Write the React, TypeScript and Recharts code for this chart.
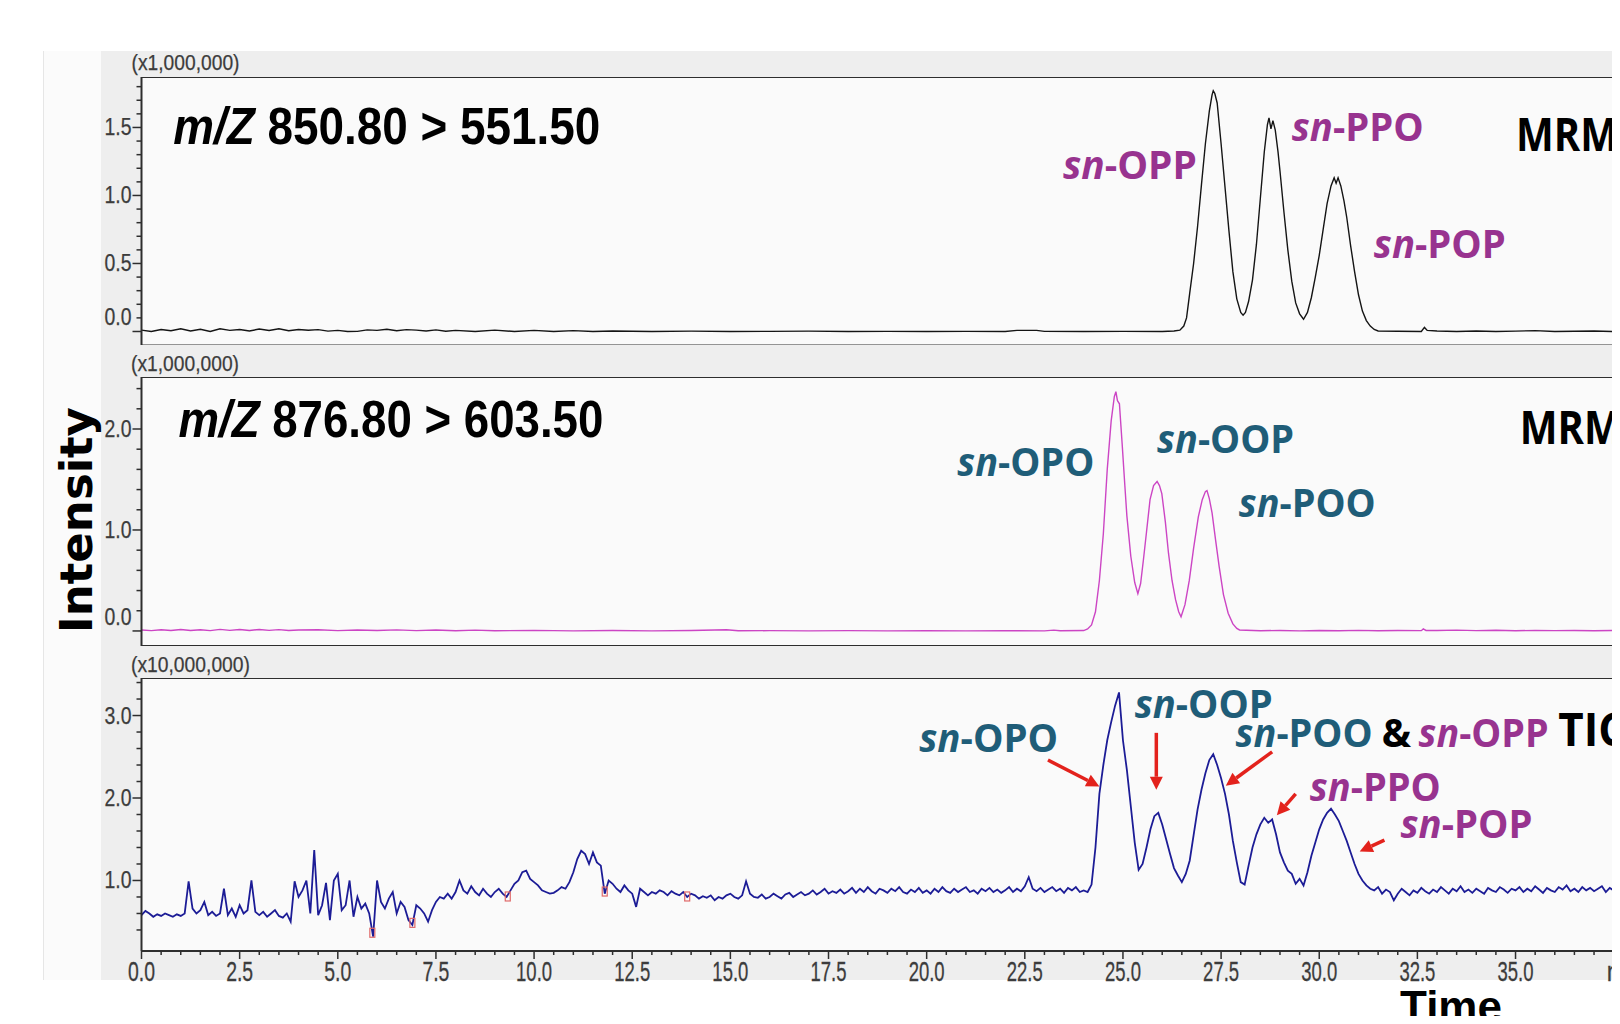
import React from 'react';
import { LineChart, Line, XAxis, YAxis, ReferenceLine, ReferenceDot } from 'recharts';

// ---------------- DATA ----------------
// MRM m/Z 850.80 > 551.50 (x1,000,000) : [time (min), intensity]
const MRM_850_POINTS: [number, number][] = [
  [0, 0.01], [0.25, 0], [0.5, 0.015], [0.75, 0.005], [1, 0.02], [1.25, 0.004], [1.5, 0.016], [1.75, 0],
  [2, 0.02], [2.25, 0.008], [2.5, 0.015], [2.75, 0.004], [3, 0.018], [3.25, 0.007], [3.5, 0.02], [3.75, 0.005],
  [4, 0.015], [4.25, 0.009], [4.5, 0.014], [4.75, 0.003], [5, 0.008], [5.25, 0], [5.5, 0.001], [5.75, 0.012],
  [6, 0.008], [6.25, 0.016], [6.5, 0.006], [6.75, 0.014], [7, 0.01], [7.25, 0.004], [7.5, 0.012], [7.75, 0.002],
  [8, 0.008], [8.5, 0], [9, 0.01], [9.5, 0], [10, 0.008], [10.5, 0], [11, 0.006], [11.5, 0], [12, 0.004],
  [13, 0], [14, 0.003], [15, 0], [16, 0.001], [17, 0.003], [18, 0], [19, 0.001], [20, 0], [21, 0.001], [22, 0],
  [22.3, 0.008], [22.8, 0.008], [23, 0.001], [24, 0], [25, 0.001], [26, 0], [26.3, 0.004], [26.45, 0.01],
  [26.55, 0.04], [26.62, 0.1], [26.7, 0.28], [26.8, 0.5], [26.9, 0.77], [27, 1.08], [27.1, 1.38], [27.2, 1.62],
  [27.27, 1.74], [27.3, 1.77], [27.34, 1.75], [27.4, 1.68], [27.5, 1.38], [27.6, 1.06], [27.7, 0.74], [27.8, 0.44],
  [27.9, 0.24], [28, 0.14], [28.06, 0.12], [28.12, 0.14], [28.2, 0.22], [28.3, 0.38], [28.4, 0.64], [28.5, 0.98],
  [28.6, 1.32], [28.68, 1.52], [28.72, 1.57], [28.77, 1.49], [28.82, 1.55], [28.88, 1.48], [28.95, 1.32], [29, 1.18],
  [29.1, 0.88], [29.2, 0.6], [29.3, 0.37], [29.4, 0.21], [29.5, 0.13], [29.6, 0.09], [29.7, 0.14], [29.8, 0.25],
  [29.9, 0.4], [30, 0.56], [30.1, 0.75], [30.2, 0.94], [30.3, 1.07], [30.38, 1.13], [30.43, 1.09], [30.48, 1.13],
  [30.55, 1.07], [30.63, 0.96], [30.7, 0.84], [30.8, 0.63], [30.9, 0.44], [31, 0.27], [31.1, 0.15], [31.2, 0.08],
  [31.3, 0.04], [31.4, 0.015], [31.5, 0.004], [32, 0.002], [32.6, 0], [32.68, 0.03], [32.75, 0.008], [33, 0.004],
  [33.5, 0], [34, 0.004], [34.5, 0], [35, 0.003], [35.5, 0.006], [36, 0], [36.5, 0.002], [37, 0.004], [37.5, 0],
  [38, 0.002], [38.68, 0],
];

// MRM m/Z 876.80 > 603.50 (x1,000,000)
const MRM_876_POINTS: [number, number][] = [
  [0, 0.01], [0.25, 0.003], [0.5, 0.012], [0.75, 0.004], [1, 0.015], [1.25, 0.005], [1.5, 0.012], [1.75, 0.003],
  [2, 0.016], [2.25, 0.006], [2.5, 0.014], [2.75, 0.004], [3, 0.015], [3.25, 0.006], [3.5, 0.013], [3.75, 0.004],
  [4, 0.01], [4.5, 0.012], [5, 0.003], [5.5, 0.01], [6, 0.004], [6.5, 0.011], [7, 0.003], [7.5, 0.009], [8, 0.002],
  [8.5, 0.008], [9, 0.002], [10, 0.006], [11, 0.001], [12, 0.005], [13, 0.001], [14, 0.004], [14.9, 0.012],
  [15.2, 0.002], [16, 0.003], [17, 0.001], [18, 0.003], [19, 0.001], [20, 0.002], [21, 0.001], [22, 0.002],
  [23, 0.001], [23.24, 0.008], [23.4, 0.002], [24, 0.004], [24.1, 0.02], [24.2, 0.06], [24.3, 0.19], [24.4, 0.5],
  [24.5, 0.96], [24.6, 1.6], [24.7, 2.08], [24.78, 2.32], [24.82, 2.37], [24.86, 2.28], [24.91, 2.25], [24.98, 1.85],
  [25.05, 1.43], [25.1, 1.14], [25.2, 0.74], [25.3, 0.48], [25.38, 0.37], [25.45, 0.47], [25.52, 0.7], [25.6, 0.98],
  [25.69, 1.3], [25.78, 1.44], [25.87, 1.48], [25.93, 1.44], [25.99, 1.36], [26.08, 1.08], [26.16, 0.77], [26.25, 0.5],
  [26.34, 0.31], [26.42, 0.19], [26.48, 0.14], [26.58, 0.26], [26.69, 0.5], [26.8, 0.82], [26.92, 1.13], [27.02, 1.3],
  [27.1, 1.38], [27.14, 1.39], [27.2, 1.31], [27.27, 1.17], [27.36, 0.9], [27.45, 0.64], [27.56, 0.36], [27.68, 0.175],
  [27.8, 0.07], [27.9, 0.025], [27.97, 0.01], [28.5, 0.002], [29, 0.005], [29.5, 0.001], [30, 0.004], [30.5, 0.002],
  [31, 0.006], [31.5, 0.002], [32, 0.005], [32.6, 0.003], [32.65, 0.02], [32.72, 0.005], [33, 0.004], [33.5, 0.008],
  [34, 0.003], [34.5, 0.007], [35, 0.002], [35.5, 0.006], [36, 0.003], [36.5, 0.005], [37, 0.002], [37.5, 0.004],
  [38, 0.003], [38.68, 0.002],
];

// TIC (x10,000,000), sampled every 0.1 min from 0.0 min
const TIC_STEP_MIN = 0.1;
const TIC_VALUES: number[] = [
  0.58, 0.63, 0.60, 0.56, 0.59, 0.57, 0.60, 0.58, 0.56, 0.59,
  0.57, 0.60, 0.99, 0.66, 0.60, 0.64, 0.74, 0.58, 0.62, 0.57,
  0.60, 0.90, 0.58, 0.66, 0.56, 0.70, 0.60, 0.64, 1.00, 0.62,
  0.58, 0.62, 0.56, 0.60, 0.64, 0.57, 0.55, 0.60, 0.50, 0.99,
  0.80, 0.88, 1.00, 0.60, 1.37, 0.58, 0.70, 0.97, 0.52, 1.00,
  1.08, 0.64, 0.70, 1.00, 0.56, 0.80, 0.66, 0.72, 0.60, 0.32,
  1.00, 0.74, 0.66, 0.78, 0.86, 0.60, 0.74, 0.68, 0.52, 0.46,
  0.70, 0.66, 0.60, 0.50, 0.64, 0.74, 0.80, 0.78, 0.84, 0.78,
  0.86, 1.00, 0.88, 0.84, 0.93, 0.86, 0.82, 0.90, 0.84, 0.80,
  0.86, 0.90, 0.84, 0.80, 0.88, 0.96, 1.00, 1.10, 1.12, 1.02,
  0.98, 0.94, 0.88, 0.86, 0.84, 0.85, 0.88, 0.92, 0.90, 0.98,
  1.10, 1.26, 1.36, 1.32, 1.20, 1.34, 1.22, 1.18, 0.84, 1.00,
  0.96, 0.90, 0.86, 0.94, 0.88, 0.84, 0.68, 0.90, 0.86, 0.82,
  0.86, 0.84, 0.88, 0.86, 0.82, 0.87, 0.84, 0.82, 0.86, 0.80,
  0.84, 0.82, 0.78, 0.81, 0.79, 0.82, 0.76, 0.80, 0.78, 0.82,
  0.84, 0.80, 0.78, 0.82, 0.99, 0.84, 0.80, 0.79, 0.83, 0.78,
  0.80, 0.84, 0.81, 0.78, 0.83, 0.85, 0.80, 0.83, 0.86, 0.82,
  0.84, 0.88, 0.83, 0.86, 0.90, 0.84, 0.87, 0.85, 0.89, 0.84,
  0.87, 0.91, 0.85, 0.90, 0.86, 0.92, 0.87, 0.84, 0.90, 0.88,
  0.85, 0.90, 0.87, 0.92, 0.86, 0.84, 0.89, 0.86, 0.91, 0.85,
  0.88, 0.84, 0.90, 0.86, 0.92, 0.87, 0.85, 0.90, 0.86, 0.89,
  0.92, 0.86, 0.88, 0.84, 0.90, 0.87, 0.91, 0.86, 0.89, 0.85,
  0.88, 0.92, 0.86, 0.90, 0.87, 0.93, 1.04, 0.90, 0.87, 0.91,
  0.86, 0.89, 0.92, 0.87, 0.90, 0.85, 0.91, 0.88, 0.92, 0.86,
  0.88, 0.86, 0.95, 1.40, 2.05, 2.40, 2.70, 2.92, 3.12, 3.28,
  2.70, 2.34, 1.90, 1.46, 1.13, 1.20, 1.40, 1.62, 1.78, 1.82,
  1.68, 1.50, 1.32, 1.15, 1.06, 0.98, 1.08, 1.24, 1.55, 1.86,
  2.10, 2.30, 2.46, 2.53, 2.40, 2.24, 2.05, 1.80, 1.48, 1.22,
  0.98, 0.95, 1.18, 1.40, 1.56, 1.68, 1.76, 1.70, 1.74, 1.56,
  1.34, 1.22, 1.12, 1.08, 0.96, 1.02, 0.94, 1.10, 1.30, 1.46,
  1.62, 1.74, 1.82, 1.87, 1.80, 1.72, 1.60, 1.48, 1.34, 1.20,
  1.08, 1.00, 0.94, 0.90, 0.88, 0.92, 0.84, 0.89, 0.86, 0.76,
  0.84, 0.90, 0.86, 0.82, 0.88, 0.85, 0.91, 0.87, 0.84, 0.89,
  0.86, 0.92, 0.88, 0.84, 0.90, 0.87, 0.93, 0.86, 0.89, 0.85,
  0.90, 0.87, 0.84, 0.91, 0.88, 0.86, 0.92, 0.89, 0.85, 0.90,
  0.88, 0.92, 0.86, 0.90, 0.87, 0.93, 0.89, 0.85, 0.91, 0.88,
  0.86, 0.92, 0.89, 0.94, 0.87, 0.90, 0.86, 0.92, 0.88, 0.91,
  0.87, 0.90, 0.93, 0.86, 0.91, 0.88, 0.84, 0.90, 0.87, 0.92,
  0.89, 0.86, 0.91, 0.88, 0.90, 0.87, 0.92,
];

// small red integration marks on the TIC: [time, intensity]
const TIC_MARKS: [number, number][] = [[5.88, 0.36], [6.9, 0.48], [9.33, 0.8], [11.8, 0.86], [13.9, 0.8]];

// axis ticks / labels
const X_MAJOR_TICKS = [0, 2.5, 5, 7.5, 10, 12.5, 15, 17.5, 20, 22.5, 25, 27.5, 30, 32.5, 35, 37.5];
const X_TICK_LABELS = ['0.0', '2.5', '5.0', '7.5', '10.0', '12.5', '15.0', '17.5', '20.0', '22.5', '25.0', '27.5', '30.0', '32.5', '35.0', 'min'];
const P1_Y_MAJOR = [0, 0.5, 1.0, 1.5];
const P1_Y_LABELS = ['0.0', '0.5', '1.0', '1.5'];
const P2_Y_MAJOR = [0, 1, 2];
const P2_Y_LABELS = ['0.0', '1.0', '2.0'];
const P3_Y_MAJOR = [1, 2, 3];
const P3_Y_LABELS = ['1.0', '2.0', '3.0'];

// ---------------- STYLE / LAYOUT ----------------
const FRAME = '#2e2e2e';
const TICK_TEXT = '#3c3c3c';
const PURPLE = '#98338f';
const TEAL = '#1f5d78';
const RED = '#e3221c';
const AXIS_FONT = "'Liberation Sans', Arial, sans-serif";
const ANNO_FONT = "'Open Sans', 'Noto Sans', sans-serif";

const CHART_W = 1660;
const PLOT_LEFT = 141.5;
const YAXIS_W = 60;
const X_DOMAIN: [number, number] = [0, 38.68];

const range = (a: number, b: number, s: number) => {
  const out: number[] = [];
  for (let k = 0; a + k * s <= b + 1e-9; k++) out.push(Math.round((a + k * s) * 1000) / 1000);
  return out;
};
const X_TICKS = range(0, 38.5, 0.5);

const toRows = (pts: [number, number][]) => pts.map(([t, v]) => ({ t, v }));
const TIC_ROWS = TIC_VALUES.map((v, i) => ({ t: Math.round(i * TIC_STEP_MIN * 100) / 100, v }));

type Part = { text: string; color: string; italic?: boolean };
type Anno = { t: number; v: number; parts: Part[]; size: number; width?: number; font?: string; weight?: number };

const sn = (name: string, color: string): Part[] => [
  { text: 'sn', color, italic: true },
  { text: '-' + name, color },
];
const mz = (text: string): Part[] => [
  { text: 'm/Z', color: '#000', italic: true },
  { text: ' ' + text, color: '#000' },
];
const MZ_FONT = "'Liberation Sans', Arial, sans-serif";

const P1_ANNOS: Anno[] = [
  { t: 0.807, v: 1.375, parts: mz('850.80 > 551.50'), size: 52, width: 427, font: MZ_FONT },
  { t: 35.01, v: 1.326, parts: [{ text: 'MRM', color: '#000' }], size: 46, width: 102 },
  { t: 23.47, v: 1.123, parts: sn('OPP', PURPLE), size: 39, width: 134 },
  { t: 29.3, v: 1.404, parts: sn('PPO', PURPLE), size: 39, width: 132 },
  { t: 31.39, v: 0.537, parts: sn('POP', PURPLE), size: 39, width: 132 },
];
const P2_ANNOS: Anno[] = [
  { t: 0.94, v: 1.918, parts: mz('876.80 > 603.50'), size: 52, width: 425, font: MZ_FONT },
  { t: 35.11, v: 1.851, parts: [{ text: 'MRM', color: '#000' }], size: 46, width: 102 },
  { t: 20.78, v: 1.535, parts: sn('OPO', TEAL), size: 39, width: 137 },
  { t: 25.87, v: 1.765, parts: sn('OOP', TEAL), size: 39, width: 137 },
  { t: 27.95, v: 1.132, parts: sn('POO', TEAL), size: 39, width: 137 },
];
const P3_ANNOS: Anno[] = [
  { t: 19.81, v: 2.561, parts: sn('OPO', TEAL), size: 39, width: 139 },
  { t: 25.3, v: 2.966, parts: sn('OOP', TEAL), size: 39, width: 138 },
  { t: 27.87, v: 2.622, parts: sn('POO', TEAL), size: 39, width: 137 },
  { t: 31.59, v: 2.622, parts: [{ text: '&', color: '#000' }], size: 39 },
  { t: 32.53, v: 2.622, parts: sn('OPP', PURPLE), size: 39, width: 130 },
  { t: 36.09, v: 2.63, parts: [{ text: 'TIC', color: '#000' }], size: 46, width: 68 },
  { t: 29.76, v: 1.967, parts: sn('PPO', PURPLE), size: 39, width: 131 },
  { t: 32.07, v: 1.511, parts: sn('POP', PURPLE), size: 39, width: 132 },
];
// arrows: [t1, v1, t2, v2] from label to peak
const P3_ARROWS: [number, number, number, number][] = [
  [23.09, 2.46, 24.4, 2.14],
  [25.85, 2.79, 25.85, 2.1],
  [28.8, 2.56, 27.62, 2.15],
  [29.4, 2.05, 28.92, 1.79],
  [31.66, 1.49, 31.03, 1.35],
];

// ---------------- RENDER HELPERS ----------------
const XTick = (props: any) => {
  const { x, y, payload } = props;
  const v = payload.value;
  const idx = X_MAJOR_TICKS.findIndex((m) => Math.abs(m - v) < 1e-6);
  const major = idx >= 0;
  const label = major ? X_TICK_LABELS[idx] : null;
  return (
    <g>
      <line x1={x} x2={x} y1={y} y2={y + (major ? 8 : 4)} stroke={FRAME} strokeWidth={1.5} />
      {label &&
        (label === 'min' ? (
          <text x={x - 7} y={y + 30} fontFamily={AXIS_FONT} fontSize={28} fill={TICK_TEXT} stroke={TICK_TEXT} strokeWidth={0.3}
            textLength={38} lengthAdjust="spacingAndGlyphs">
            min
          </text>
        ) : (
          <text x={x} y={y + 30} textAnchor="middle" fontFamily={AXIS_FONT} fontSize={28} fill={TICK_TEXT} stroke={TICK_TEXT} strokeWidth={0.3}
            textLength={label.length === 4 ? 36 : 27} lengthAdjust="spacingAndGlyphs">
            {label}
          </text>
        ))}
    </g>
  );
};

const YTick = (props: any) => {
  const { x, y, payload, majors, labels, zeroShift } = props;
  const v = payload.value;
  const idx = (majors as number[]).findIndex((m) => Math.abs(m - v) < 1e-6);
  const major = idx >= 0;
  const shift = major && Math.abs(v) < 1e-6 ? zeroShift : 0;
  return (
    <g>
      <line x1={x - (major ? 9 : 5)} x2={x} y1={y} y2={y} stroke={FRAME} strokeWidth={1.5} />
      {major && (
        <text x={x - 10} y={y + 8 + shift} textAnchor="end" fontFamily={AXIS_FONT} fontSize={23} fill={TICK_TEXT} stroke={TICK_TEXT} strokeWidth={0.25}
          textLength={27} lengthAdjust="spacingAndGlyphs">
          {labels[idx]}
        </text>
      )}
    </g>
  );
};

const annoShape = (a: Anno) => (p: any) => (
  <text x={p.cx} y={p.cy} fontFamily={a.font || ANNO_FONT} fontWeight={a.weight || 700} fontSize={a.size}
    textLength={a.width} lengthAdjust={a.width ? 'spacingAndGlyphs' : undefined}>
    {a.parts.map((pt, i) => (
      <tspan key={i} fill={pt.color} fontStyle={pt.italic ? 'italic' : 'normal'}>{pt.text}</tspan>
    ))}
  </text>
);

const arrowShape = (p: any) => {
  const { x1, y1, x2, y2 } = p;
  const dx = x2 - x1;
  const dy = y2 - y1;
  const len = Math.hypot(dx, dy) || 1;
  const ux = dx / len;
  const uy = dy / len;
  const hl = 13;
  const hw = 6.5;
  const bx = x2 - ux * hl;
  const by = y2 - uy * hl;
  return (
    <g>
      <line x1={x1} y1={y1} x2={bx} y2={by} stroke={RED} strokeWidth={3.5} />
      <polygon points={`${x2},${y2} ${bx - uy * hw},${by + ux * hw} ${bx + uy * hw},${by - ux * hw}`} fill={RED} />
    </g>
  );
};

const markShape = (p: any) => (
  <rect x={p.cx - 2.5} y={p.cy - 5} width={5} height={9} fill="none" stroke="#e06a6a" strokeWidth={1.2} />
);

type PanelProps = {
  top: number;
  height: number;
  rows: { t: number; v: number }[];
  color: string;
  lineWidth: number;
  yDomain: [number, number];
  yTicks: number[];
  yMajors: number[];
  yLabels: string[];
  zeroShift: number;
  annos: Anno[];
  arrows?: [number, number, number, number][];
  marks?: [number, number][];
  showX?: boolean;
};

const X_AXIS_H = 40;

function Panel(props: PanelProps) {
  const { top, height, rows, color, lineWidth, yDomain, yTicks, yMajors, yLabels, zeroShift, annos, arrows, marks, showX } = props;
  const h = height + (showX ? X_AXIS_H : 0);
  return (
    <div style={{ position: 'absolute', left: 0, top, width: CHART_W, height: h }}>
      <LineChart width={CHART_W} height={h} data={rows} margin={{ top: 0, right: 0, bottom: 0, left: PLOT_LEFT - YAXIS_W }}>
        <XAxis
          type="number"
          dataKey="t"
          domain={X_DOMAIN}
          allowDataOverflow
          ticks={X_TICKS}
          interval={0}
          tickLine={false}
          tickSize={0}
          tickMargin={0}
          tick={showX ? <XTick /> : false}
          axisLine={{ stroke: FRAME, strokeWidth: 2 }}
          height={X_AXIS_H}
          hide={!showX}
        />
        <YAxis
          type="number"
          domain={yDomain}
          allowDataOverflow
          ticks={yTicks}
          interval={0}
          tickLine={false}
          tickSize={0}
          tickMargin={0}
          tick={<YTick majors={yMajors} labels={yLabels} zeroShift={zeroShift} />}
          axisLine={{ stroke: FRAME, strokeWidth: 2 }}
          width={YAXIS_W}
        />
        <ReferenceLine y={yDomain[1]} stroke={FRAME} strokeWidth={2} ifOverflow="visible" />
        {!showX && <ReferenceLine y={yDomain[0]} stroke={FRAME} strokeWidth={2} ifOverflow="visible" />}
        <Line type="linear" dataKey="v" stroke={color} strokeWidth={lineWidth} dot={false} activeDot={false} isAnimationActive={false} />
        {(marks || []).map(([t, v], i) => (
          <ReferenceDot key={'m' + i} x={t} y={v} r={0} ifOverflow="visible" shape={markShape} />
        ))}
        {(arrows || []).map(([t1, v1, t2, v2], i) => (
          <ReferenceLine key={'a' + i} segment={[{ x: t1, y: v1 }, { x: t2, y: v2 }]} ifOverflow="visible" shape={arrowShape} />
        ))}
        {annos.map((a, i) => (
          <ReferenceDot key={'t' + i} x={a.t} y={a.v} r={0} ifOverflow="visible" shape={annoShape(a)} />
        ))}
      </LineChart>
    </div>
  );
}

const P1 = { top: 76.5, height: 268.5, domain: [-0.103, 1.871] as [number, number] };
const P2 = { top: 377, height: 269, domain: [-0.149, 2.515] as [number, number] };
const P3 = { top: 678, height: 273, domain: [0.145, 3.455] as [number, number] };

const plotBg = (top: number, height: number) => (
  <div style={{ position: 'absolute', left: PLOT_LEFT, top, width: 1620 - PLOT_LEFT, height, background: '#fafafa' }} />
);

export default function App() {
  return (
    <div style={{ position: 'relative', width: 1620, height: 1024, margin: -8, overflow: 'hidden', background: '#ffffff' }}>
      <div style={{ position: 'absolute', left: 43, top: 51, width: 58, height: 929, background: '#fbfbfb', borderLeft: '1px solid #e6e6e6' }} />
      <div style={{ position: 'absolute', left: 101, top: 51, width: 1519, height: 929, background: '#eeeeee' }} />
      {plotBg(P1.top, P1.height)}
      {plotBg(P2.top, P2.height)}
      {plotBg(P3.top, P3.height)}

      <Panel
        top={P1.top}
        height={P1.height}
        rows={toRows(MRM_850_POINTS)}
        color="#141414"
        lineWidth={1.4}
        yDomain={P1.domain}
        yTicks={range(0, 1.8, 0.1)}
        yMajors={P1_Y_MAJOR}
        yLabels={P1_Y_LABELS}
        zeroShift={-14}
        annos={P1_ANNOS}
      />
      <Panel
        top={P2.top}
        height={P2.height}
        rows={toRows(MRM_876_POINTS)}
        color="#cc45c4"
        lineWidth={1.4}
        yDomain={P2.domain}
        yTicks={range(0, 2.4, 0.2)}
        yMajors={P2_Y_MAJOR}
        yLabels={P2_Y_LABELS}
        zeroShift={-14}
        annos={P2_ANNOS}
      />
      <Panel
        top={P3.top}
        height={P3.height}
        rows={TIC_ROWS}
        color="#1c1c96"
        lineWidth={1.8}
        yDomain={P3.domain}
        yTicks={range(0.4, 3.4, 0.2)}
        yMajors={P3_Y_MAJOR}
        yLabels={P3_Y_LABELS}
        zeroShift={0}
        annos={P3_ANNOS}
        arrows={P3_ARROWS}
        marks={TIC_MARKS}
        showX
      />

      <svg width={1620} height={1024} style={{ position: 'absolute', left: 0, top: 0, pointerEvents: 'none' }}>
        <text x={131.5} y={70} fontFamily={AXIS_FONT} fontSize={22} fill={TICK_TEXT} stroke={TICK_TEXT} strokeWidth={0.25} textLength={108} lengthAdjust="spacingAndGlyphs">(x1,000,000)</text>
        <text x={131} y={371} fontFamily={AXIS_FONT} fontSize={22} fill={TICK_TEXT} stroke={TICK_TEXT} strokeWidth={0.25} textLength={108} lengthAdjust="spacingAndGlyphs">(x1,000,000)</text>
        <text x={131} y={671.5} fontFamily={AXIS_FONT} fontSize={22} fill={TICK_TEXT} stroke={TICK_TEXT} strokeWidth={0.25} textLength={119} lengthAdjust="spacingAndGlyphs">(x10,000,000)</text>
        <text transform="translate(92, 520) rotate(-90)" x={0} y={0} textAnchor="middle" fontFamily="'DejaVu Sans', Verdana, sans-serif" fontWeight={700} fontSize={45} fill="#000">Intensity</text>
        <text x={1451} y={1022} textAnchor="middle" fontFamily="'Liberation Sans', Arial, sans-serif" fontWeight={700} fontSize={44} fill="#000">Time</text>
      </svg>
    </div>
  );
}
